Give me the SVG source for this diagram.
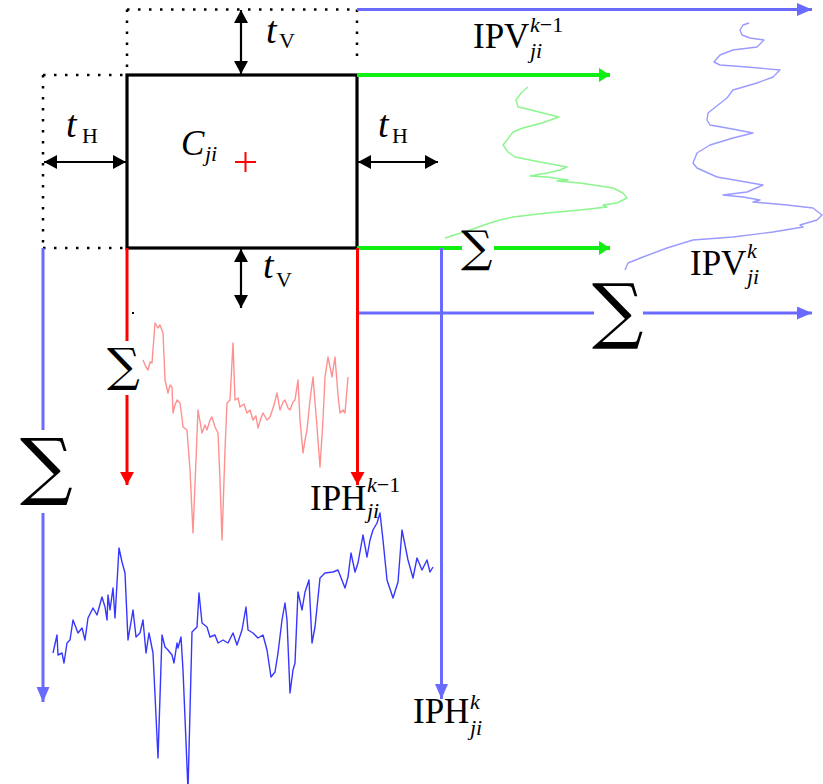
<svg xmlns="http://www.w3.org/2000/svg" width="823" height="784" viewBox="0 0 823 784">
<style>
.serif{font-family:"Liberation Serif","DejaVu Serif",serif;fill:#000}
.it{font-style:italic}
.sum{font-family:"DejaVu Serif","Liberation Serif",serif;fill:#000}
.dot{fill:none;stroke:#000;stroke-width:2.5;stroke-dasharray:2.5 8.5}
.blk{fill:none;stroke:#000;stroke-width:2.2}
.blu{fill:none;stroke:#6a6aff;stroke-width:3}
.grn{fill:none;stroke:#11ee11;stroke-width:4}
.red{fill:none;stroke:#ff0000;stroke-width:3}
.wave{fill:none;stroke-width:1.4;stroke-linejoin:round}
</style>
<defs>
<marker id="ab" markerUnits="userSpaceOnUse" markerWidth="16" markerHeight="16" refX="13" refY="7" orient="auto-start-reverse"><path d="M0,0 L13,7 L0,14 Z" fill="#000"/></marker>
<marker id="abl" markerUnits="userSpaceOnUse" markerWidth="18" markerHeight="16" refX="15" refY="6.5" orient="auto"><path d="M0,0 L15,6.5 L0,13 Z" fill="#6a6aff"/></marker>
<marker id="agr" markerUnits="userSpaceOnUse" markerWidth="14" markerHeight="16" refX="11" refY="7" orient="auto"><path d="M0,0 L11,7 L0,14 Z" fill="#11ee11"/></marker>
<marker id="ard" markerUnits="userSpaceOnUse" markerWidth="16" markerHeight="16" refX="13" refY="7" orient="auto"><path d="M0,0 L13,7 L0,14 Z" fill="#ff0000"/></marker>
</defs>

<g id="waves">
<polyline class="wave" stroke="#ff9090" points="143,360 146,367 148,370 150,362 152,363 155,323 158,328 160,325 163,333 165,380 168,393 170,385 172,387 173,413 175,405 177,400 180,403 182,418 183,427 187,430 190,470 193,533 196,460 198,410 202,433 205,425 207,430 210,420 212,417 215,427 218,433 220,480 222,540 225,450 227,403 230,400 233,343 235,400 238,398 240,407 244,404 247,413 250,410 253,420 256,416 258,428 261,418 263,413 267,420 270,417 274,405 277,393 280,410 283,402 285,400 288,408 290,410 293,402 295,400 298,380 300,420 303,453 305,440 307,430 310,400 313,377 317,427 320,467 323,420 325,377 328,357 332,377 335,357 338,395 340,413 343,410 345,413 348,377"/>
<polyline class="wave" stroke="#8cf58c" points="528,87 522,92 516,100 518,107 527,109 559,117 542,123 523,128 513,132 507,140 503,145 508,152 515,157 540,162 567,167 560,170 547,173 530,176 547,177 568,180 557,181 580,183 613,188 623,193 627,198 617,203 603,205 607,207 580,210 547,213 513,217 500,220 490,223 470,230 445,238"/>
<polyline class="wave" stroke="#9a9aff" points="749,23 743,25 740,30 742,35 750,38 764,40 757,47 733,50 720,55 714,62 720,65 747,67 780,70 773,77 757,83 733,90 727,98 718,105 708,113 707,120 710,125 727,128 753,133 733,138 710,145 697,153 693,163 697,168 717,177 763,185 747,192 723,195 743,197 760,200 753,202 787,205 813,208 822,215 817,220 800,225 803,227 773,232 733,237 693,240 667,248 643,257 628,263 625,270"/>
<polyline class="wave" stroke="#3636ff" stroke-width="1.2" points="53,653 57,635 58,655 62,653 64,663 67,643 70,640 73,620 78,633 82,628 85,640 88,618 93,608 97,615 102,597 105,607 107,620 108,595 110,610 113,588 115,618 119,548 122,562 125,573 128,640 133,610 136,637 140,633 143,620 146,653 149,633 153,653 158,758 162,635 165,647 168,650 172,655 174,663 177,643 178,648 181,637 183,670 188,790 192,632 197,627 199,593 202,623 207,627 210,637 215,635 218,643 223,640 228,643 233,633 237,645 242,630 246,607 248,630 253,633 258,638 263,635 267,650 271,677 275,672 278,653 282,620 285,603 287,620 290,693 293,670 295,663 298,592 302,610 305,592 309,580 312,643 315,627 320,578 325,573 333,572 338,570 345,588 348,577 351,553 355,572 358,563 363,535 367,557 370,540 373,530 377,523 380,513 383,540 387,580 393,598 398,582 402,530 405,545 408,560 413,578 417,558 422,570 427,560 430,572 433,567"/>
</g>

<g id="dotted-regions">
<path class="dot" d="M127,9.5 H357 M127,9.5 V75 M357,9.5 V64"/>
<path class="dot" d="M43,75 H127 M43,75 V248 M43,248 H127"/>
</g>

<g id="cell">
<rect x="127" y="75" width="230" height="173" fill="none" stroke="#000" stroke-width="3.2"/>
<path d="M235,162 H256 M245.5,152 V172" stroke="#ff0000" stroke-width="2" fill="none"/>
<text class="serif it" x="181" y="155" font-size="35">C<tspan x="205" y="161" font-size="22">ji</tspan></text>
</g>

<g id="connectors">
<line class="blk" x1="241" y1="10" x2="241" y2="74" marker-start="url(#ab)" marker-end="url(#ab)"/>
<line class="blk" x1="241" y1="249" x2="241" y2="308" marker-start="url(#ab)" marker-end="url(#ab)"/>
<line class="blk" x1="44" y1="162" x2="126" y2="162" marker-start="url(#ab)" marker-end="url(#ab)"/>
<line class="blk" x1="358" y1="162" x2="438" y2="162" marker-start="url(#ab)" marker-end="url(#ab)"/>
<line class="grn" x1="357" y1="75" x2="610" y2="75" marker-end="url(#agr)"/>
<line class="grn" x1="357" y1="248" x2="462" y2="248"/>
<line class="grn" x1="494" y1="248" x2="610" y2="248" marker-end="url(#agr)"/>
<line class="blu" x1="357" y1="9.5" x2="812" y2="9.5" marker-end="url(#abl)"/>
<line class="blu" x1="357" y1="313" x2="594" y2="313"/>
<line class="blu" x1="643" y1="313" x2="812" y2="313" marker-end="url(#abl)"/>
<line class="blu" x1="43" y1="248" x2="43" y2="430"/>
<line class="blu" x1="43" y1="513" x2="43" y2="702" marker-end="url(#abl)"/>
<line class="blu" x1="441.5" y1="248" x2="441.5" y2="699" marker-end="url(#abl)"/>
<line class="red" x1="127" y1="248" x2="127" y2="341"/>
<line class="red" x1="127" y1="395" x2="127" y2="485" marker-end="url(#ard)"/>
<line class="red" x1="357.5" y1="248" x2="357.5" y2="485" marker-end="url(#ard)"/>
<rect x="132" y="312" width="2" height="2" fill="#000"/>
</g>

<g id="labels">
<text class="serif it" x="266" y="43" font-size="38">t<tspan x="279" y="48" font-size="22" font-style="normal">V</tspan></text>
<text class="serif it" x="263" y="278" font-size="38">t<tspan x="276" y="287" font-size="22" font-style="normal">V</tspan></text>
<text class="serif it" x="66" y="137" font-size="38">t<tspan x="82" y="143" font-size="22" font-style="normal">H</tspan></text>
<text class="serif it" x="378" y="137" font-size="38">t<tspan x="392" y="143" font-size="22" font-style="normal">H</tspan></text>

<text class="serif" x="473" y="48" font-size="35">IPV<tspan x="530" y="32" font-size="22" font-style="italic">k</tspan><tspan font-size="22">−1</tspan><tspan x="530" y="58" font-size="22" font-style="italic">ji</tspan></text>
<text class="serif" x="690" y="275" font-size="35">IPV<tspan x="747" y="258" font-size="22" font-style="italic">k</tspan><tspan x="747" y="284" font-size="22" font-style="italic">ji</tspan></text>
<text class="serif" x="310" y="510" font-size="35">IPH<tspan x="367" y="492" font-size="22" font-style="italic">k</tspan><tspan font-size="22">−1</tspan><tspan x="367" y="518" font-size="22" font-style="italic">ji</tspan></text>
<text class="serif" x="413" y="723" font-size="35">IPH<tspan x="470" y="709" font-size="22" font-style="italic">k</tspan><tspan x="470" y="735" font-size="22" font-style="italic">ji</tspan></text>

<text class="sum" x="461" y="262" font-size="44">∑</text>
<text class="sum" x="107" y="381" font-size="46">∑</text>
<text class="sum" x="592" y="335" font-size="72">∑</text>
<text class="sum" x="20" y="491" font-size="74">∑</text>
</g>
</svg>
